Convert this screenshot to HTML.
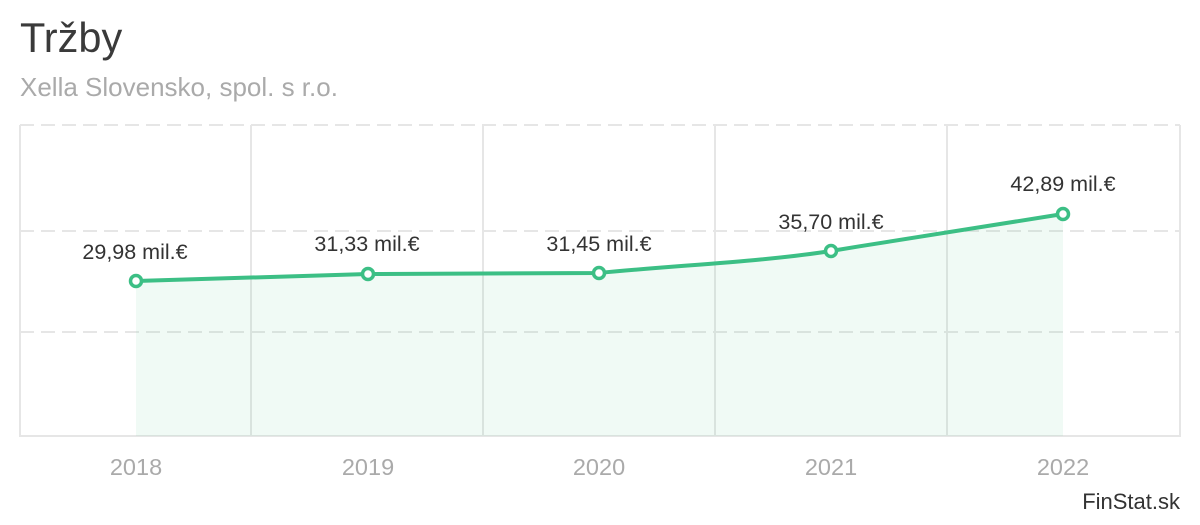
<!DOCTYPE html>
<html><head><meta charset="utf-8"><style>
body{margin:0;background:#fff;width:1200px;height:520px;overflow:hidden;font-family:"Liberation Sans",sans-serif}
</style></head><body>
<svg width="1200" height="520" xmlns="http://www.w3.org/2000/svg" font-family="Liberation Sans, sans-serif">
<text x="20" y="52" font-size="41.5" fill="#3a3a3a">Tržby</text>
<text x="20" y="96" font-size="26" fill="#aaa">Xella Slovensko, spol. s r.o.</text>
<g stroke="#e6e6e6" stroke-width="2">
<line x1="20" y1="125" x2="20" y2="437"/><line x1="251" y1="125" x2="251" y2="437"/><line x1="483" y1="125" x2="483" y2="437"/><line x1="715" y1="125" x2="715" y2="437"/><line x1="947" y1="125" x2="947" y2="437"/><line x1="1180" y1="125" x2="1180" y2="437"/>
<g stroke-dasharray="14,7"><line x1="20" y1="125" x2="1180" y2="125"/><line x1="20" y1="231" x2="1180" y2="231"/><line x1="20" y1="332" x2="1180" y2="332"/></g>
<line x1="20" y1="436" x2="1180" y2="436"/>
</g>
<path d="M136,281 L368,274 L599,273 C680,265 760,262 831,251 C910,238 990,225 1063,214 L1063,436 L136,436Z" fill="#3cbf85" fill-opacity="0.08"/>
<path d="M136,281 L368,274 L599,273 C680,265 760,262 831,251 C910,238 990,225 1063,214" fill="none" stroke="#3cbf85" stroke-width="4"/>
<g fill="#fff" stroke="#3cbf85" stroke-width="3.5">
<circle cx="136" cy="281" r="5.5"/><circle cx="368" cy="274" r="5.5"/><circle cx="599" cy="273" r="5.5"/><circle cx="831" cy="251" r="5.5"/><circle cx="1063" cy="214" r="5.5"/>
</g>
<g font-size="21.5" fill="#333" text-anchor="middle">
<text x="135" y="259">29,98 mil.€</text><text x="367" y="251">31,33 mil.€</text><text x="599" y="251">31,45 mil.€</text><text x="831" y="229">35,70 mil.€</text><text x="1063" y="191">42,89 mil.€</text>
</g>
<g font-size="23.5" fill="#aaa" text-anchor="middle">
<text x="136" y="475">2018</text><text x="368" y="475">2019</text><text x="599" y="475">2020</text><text x="831" y="475">2021</text><text x="1063" y="475">2022</text>
</g>
<text x="1180" y="509" font-size="22" fill="#333" text-anchor="end">FinStat.sk</text>
</svg>
</body></html>
